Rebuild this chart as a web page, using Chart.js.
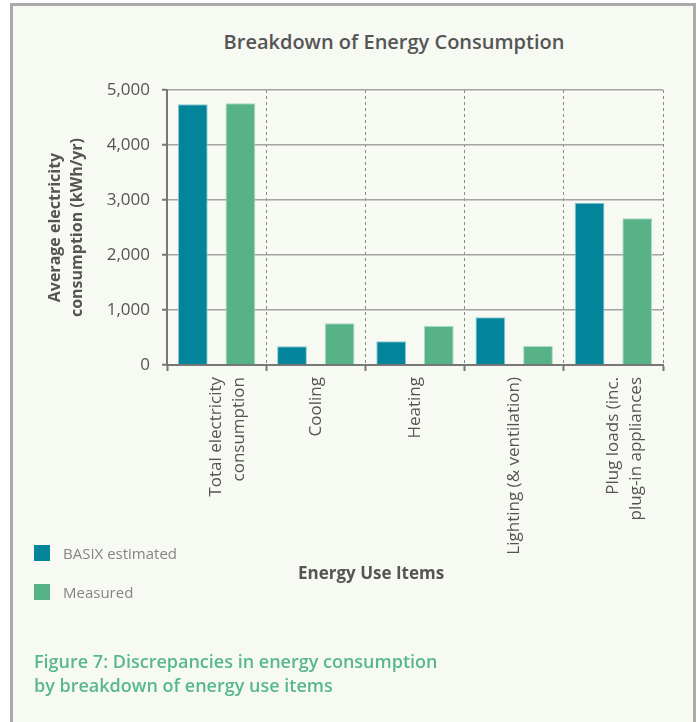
<!DOCTYPE html>
<html>
<head>
<meta charset="utf-8">
<script src="https://cdn.jsdelivr.net/npm/chart.js@4"></script>
<style>
  html, body { margin: 0; padding: 0; background: #fff; }
  body { width: 697px; height: 722px; position: relative; overflow: hidden; font-family: "Open Sans", sans-serif; }
  .panel { position: absolute; left: 10px; top: 3px; width: 680px; height: 730px; background: #f7f9f3; border: 3px solid #aaaaaa; border-bottom: none; }
  #wrap { position: absolute; left: 0; top: 0; width: 697px; height: 722px; }
  .title { position: absolute; left: 0; width: 788px; top: 28px; text-align: center; font-size: 20px; font-weight: 600; color: #555; }
  .legend { position: absolute; left: 34px; font-size: 15px; color: #858585; font-weight: 400; }
  .legend span { display: inline-block; width: 16px; height: 16px; vertical-align: -2px; margin-right: 13px; }
  .xtitle { position: absolute; left: 298px; top: 561px; font-size: 17px; font-weight: 700; color: #555; }
  .caption { position: absolute; left: 34px; top: 649px; font-size: 18px; font-weight: 600; color: #58b88b; line-height: 24px; }
</style>
</head>
<body>
<div class="panel"></div>
<div class="title">Breakdown of Energy Consumption</div>
<div id="wrap"><canvas id="energyChart"></canvas></div>
<div class="legend" style="top:543px"><span style="background:#02849b"></span>BASIX estimated</div>
<div class="legend" style="top:582px"><span style="background:#57b387"></span>Measured</div>
<div class="xtitle">Energy Use Items</div>
<div class="caption">Figure 7: Discrepancies in energy consumption<br>by breakdown of energy use items</div>
<script>
const categories = [
    ['Total electricity', 'consumption'],
    'Cooling',
    'Heating',
    'Lighting (& ventilation)',
    ['Plug loads (inc.', 'plug-in appliances']
];
const basixEstimated = [4740, 340, 430, 870, 2950];
const measured = [4760, 760, 710, 345, 2670];

Chart.defaults.font.family = "'Open Sans', sans-serif";
Chart.defaults.color = '#555';

new Chart(document.getElementById('energyChart').getContext('2d'), {
    type: 'bar',
    data: {
        labels: categories,
        datasets: [
            { label: 'BASIX estimated', data: basixEstimated, backgroundColor: '#02849b', borderColor: '#8cc7d2', borderWidth: 1 },
            { label: 'Measured', data: measured, backgroundColor: '#57b387', borderColor: '#a8dbc0', borderWidth: 1 }
        ]
    },
    options: {
        responsive: true, maintainAspectRatio: false, animation: false,
        categoryPercentage: 0.96, barPercentage: 0.625,
        layout: { padding: { left: 34, right: 34, top: 90, bottom: 0 } },
        plugins: {
            legend: { display: false },
            tooltip: { enabled: false }
        },
        scales: {
            x: {
                afterFit: (scale) => { scale.height = 357; },
                grid: { offset: true, color: '#888', lineWidth: 1, tickLength: 6, tickColor: '#777', tickWidth: 2 },
                border: { color: '#777', width: 2, dash: [3, 3] },
                ticks: { autoSkip: false, minRotation: 90, maxRotation: 90, padding: 6, color: '#555', font: { size: 17, lineHeight: 1.35 } }
            },
            y: {
                min: 0, max: 5000,
                afterFit: (scale) => { scale.width = 133; },
                grid: { color: '#a3a3a3', lineWidth: 1.5, tickLength: 5, tickColor: '#777', tickWidth: 2 },
                border: { color: '#777', width: 2 },
                ticks: { stepSize: 1000, padding: 12, color: '#555', font: { size: 17 },
                    callback: (v) => v.toLocaleString('en-US') },
                title: {
                    display: true,
                    text: ['Average electricity', 'consumption (kWh/yr)'],
                    color: '#555',
                    font: { size: 16, weight: '700', lineHeight: 1.375 },
                    padding: { top: 10, bottom: 0 }
                }
            }
        }
    }
});
</script>
</body>
</html>
